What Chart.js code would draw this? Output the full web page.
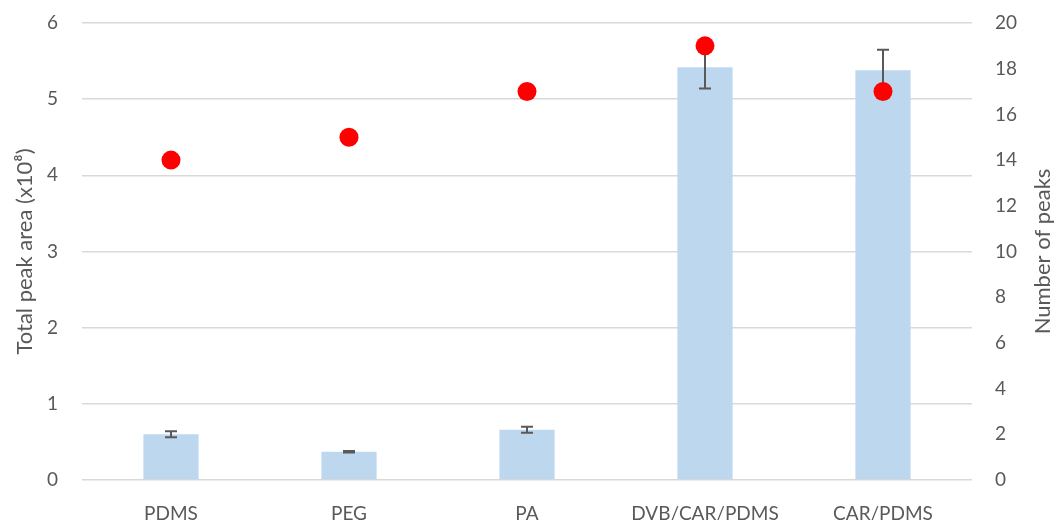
<html lang="en">
<head>
  <meta charset="UTF-8">
  <title>Total peak area and number of peaks by fibre</title>
  <style>
    html, body { margin: 0; padding: 0; background: #fff; }
    #wrap { width: 1057px; height: 520px; }
  </style>
  <script src="https://cdn.jsdelivr.net/npm/chart.js"></script>
</head>
<body>
  <div id="wrap"><canvas id="chart"></canvas></div>
  <script>
    const fibres = ['PDMS', 'PEG', 'PA', 'DVB/CAR/PDMS', 'CAR/PDMS'];
    const peakArea = [0.60, 0.37, 0.66, 5.42, 5.38];      // x10^8
    const peakAreaErr = [0.04, 0.01, 0.04, 0.28, 0.27];
    const peakCount = [14, 15, 17, 19, 17];
    const leftTitle = 'Total peak area (x10\u2078)';
    const rightTitle = 'Number of peaks';

    const grey = '#595959';
    const family = 'Lato, "Open Sans", sans-serif';
    const tickFont = { family, size: 19 };

    // error bars go after the bars and before the dots
    const errorBars = {
      id: 'errorBars',
      afterDatasetDraw(chart, args) {
        if (args.index !== 1) return;
        const ctx = chart.ctx;
        const y = chart.scales.y;
        const meta = chart.getDatasetMeta(1);
        ctx.save();
        ctx.strokeStyle = grey;
        ctx.lineWidth = 2;
        meta.data.forEach((bar, i) => {
          const top = y.getPixelForValue(peakArea[i] + peakAreaErr[i]);
          const bot = y.getPixelForValue(peakArea[i] - peakAreaErr[i]);
          const x = bar.x;
          ctx.beginPath();
          ctx.moveTo(x, top); ctx.lineTo(x, bot);
          ctx.moveTo(x - 6, top); ctx.lineTo(x + 6, top);
          ctx.moveTo(x - 6, bot); ctx.lineTo(x + 6, bot);
          ctx.stroke();
        });
        ctx.restore();
      }
    };

    // both axis titles read bottom to top, like the original
    const axisTitles = {
      id: 'axisTitles',
      afterDraw(chart) {
        const ctx = chart.ctx;
        const a = chart.chartArea;
        const mid = (a.top + a.bottom) / 2;
        ctx.save();
        ctx.fillStyle = grey;
        ctx.font = '22px ' + family;
        ctx.textAlign = 'center';
        ctx.textBaseline = 'middle';
        [[25, leftTitle], [1043, rightTitle]].forEach(([x, t]) => {
          ctx.save();
          ctx.translate(x, mid);
          ctx.rotate(-Math.PI / 2);
          ctx.fillText(t, 0, 0);
          ctx.restore();
        });
        ctx.restore();
      }
    };

    new Chart(document.getElementById('chart'), {
      type: 'bar',
      data: {
        labels: fibres,
        datasets: [
          {
            type: 'line',
            label: 'Number of peaks',
            data: peakCount,
            yAxisID: 'y1',
            showLine: false,
            pointRadius: 9.5,
            pointBackgroundColor: '#FF0000',
            pointBorderWidth: 0,
            order: 1
          },
          {
            label: 'Total peak area',
            data: peakArea,
            yAxisID: 'y',
            backgroundColor: '#BDD7EE',
            categoryPercentage: 1,
            barPercentage: 0.31,
            order: 2
          }
        ]
      },
      options: {
        responsive: true,
        maintainAspectRatio: false,
        animation: false,
        layout: { autoPadding: false, padding: { top: 23, right: 0, bottom: 0, left: 0 } },
        plugins: { legend: { display: false }, tooltip: { enabled: false } },
        scales: {
          x: {
            grid: { display: false },
            border: { display: false },
            ticks: { color: grey, font: tickFont, padding: 14 },
            afterFit(s) { s.height = 40; }
          },
          y: {
            position: 'left',
            min: 0, max: 6,
            ticks: { stepSize: 1, color: grey, font: tickFont, padding: 24 },
            grid: { color: '#D9D9D9', lineWidth: 1.5, drawTicks: false },
            border: { display: false },
            afterFit(s) { s.width = 82; s.paddingTop = 0; }
          },
          y1: {
            position: 'right',
            min: 0, max: 20,
            ticks: { stepSize: 2, color: grey, font: tickFont, padding: 23 },
            grid: { display: false, drawTicks: false },
            border: { display: false },
            afterFit(s) { s.width = 85; s.paddingTop = 0; }
          }
        }
      },
      plugins: [errorBars, axisTitles]
    });
  </script>
</body>
</html>
